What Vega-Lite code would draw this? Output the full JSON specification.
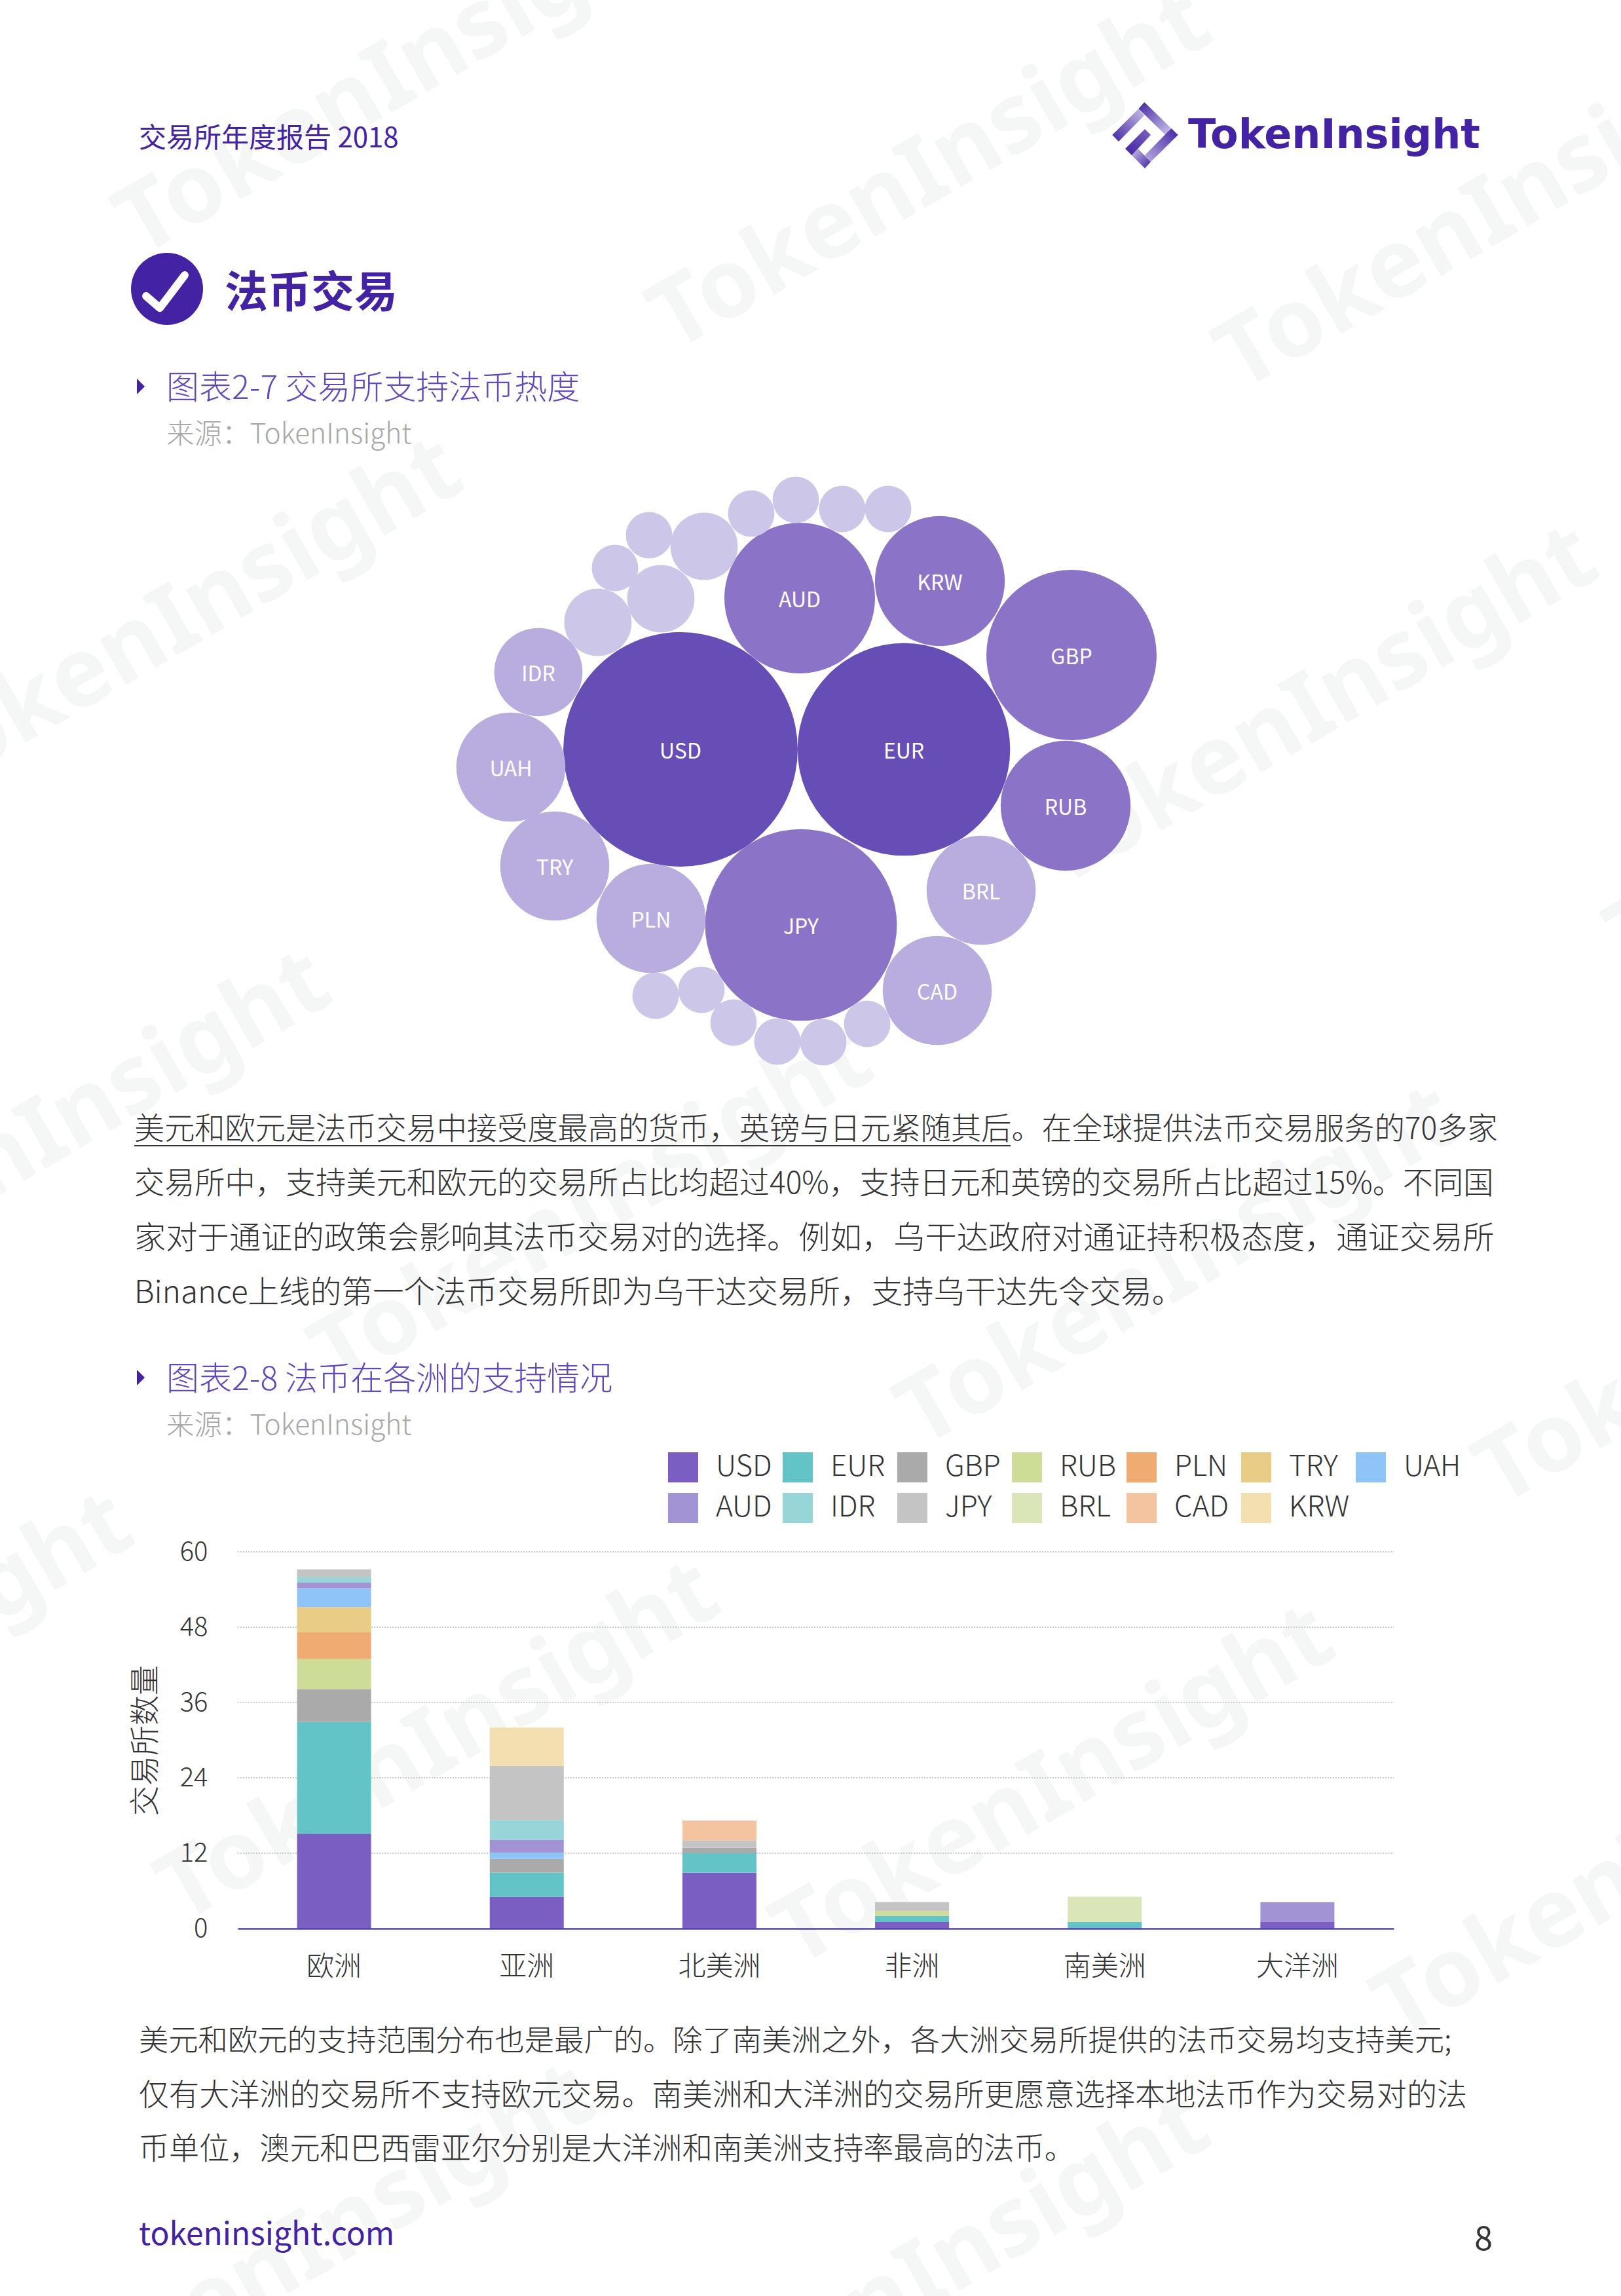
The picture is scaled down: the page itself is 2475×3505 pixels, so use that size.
{
"$schema":"https://vega.github.io/schema/vega-lite/v6.json",
"width":2475,"height":3505,"padding":0,
"autosize":{"type":"fit","contains":"padding"},
"background":"#ffffff",
"config":{"view":{"stroke":null},"text":{"font":"Noto Sans CJK SC"}},
"datasets":{
"bubbles":[
{"cur":"USD","v":25.4,"tier":"a","cx":1039,"cy":1144},
{"cur":"EUR","v":20.9,"tier":"a","cx":1380,"cy":1144},
{"cur":"JPY","v":17,"tier":"b","cx":1223,"cy":1412},
{"cur":"GBP","v":13.4,"tier":"b","cx":1636,"cy":1000},
{"cur":"AUD","v":10.5,"tier":"b","cx":1221,"cy":913},
{"cur":"KRW","v":7.8,"tier":"b","cx":1435,"cy":887},
{"cur":"RUB","v":7.8,"tier":"b","cx":1627,"cy":1230},
{"cur":"BRL","v":5.5,"tier":"c","cx":1498,"cy":1359},
{"cur":"CAD","v":5.5,"tier":"c","cx":1431,"cy":1512},
{"cur":"PLN","v":5.5,"tier":"c","cx":994,"cy":1402},
{"cur":"TRY","v":5.5,"tier":"c","cx":847,"cy":1322},
{"cur":"UAH","v":5.5,"tier":"c","cx":780,"cy":1171},
{"cur":"IDR","v":3.6,"tier":"c","cx":822,"cy":1026},
{"cur":"","v":2.1,"tier":"d","cx":913,"cy":950},
{"cur":"","v":2.1,"tier":"d","cx":1009,"cy":914},
{"cur":"","v":2.1,"tier":"d","cx":1075,"cy":834},
{"cur":"","v":1,"tier":"d","cx":939,"cy":867},
{"cur":"","v":1,"tier":"d","cx":991,"cy":817},
{"cur":"","v":1,"tier":"d","cx":1147,"cy":784},
{"cur":"","v":1,"tier":"d","cx":1215,"cy":763},
{"cur":"","v":1,"tier":"d","cx":1286,"cy":777},
{"cur":"","v":1,"tier":"d","cx":1356,"cy":777},
{"cur":"","v":1,"tier":"d","cx":1001,"cy":1520},
{"cur":"","v":1,"tier":"d","cx":1071,"cy":1511},
{"cur":"","v":1,"tier":"d","cx":1120,"cy":1561},
{"cur":"","v":1,"tier":"d","cx":1187,"cy":1590},
{"cur":"","v":1,"tier":"d","cx":1257,"cy":1591},
{"cur":"","v":1,"tier":"d","cx":1324,"cy":1563}
],
"bars":[
{"region":"欧洲","cur":"USD","n":15.1,"rank":1},
{"region":"欧洲","cur":"EUR","n":17.8,"rank":2},
{"region":"欧洲","cur":"GBP","n":5.25,"rank":3},
{"region":"欧洲","cur":"RUB","n":4.8,"rank":4},
{"region":"欧洲","cur":"PLN","n":4.3,"rank":5},
{"region":"欧洲","cur":"TRY","n":3.95,"rank":6},
{"region":"欧洲","cur":"UAH","n":3,"rank":7},
{"region":"欧洲","cur":"AUD","n":0.9,"rank":8},
{"region":"欧洲","cur":"IDR","n":0.9,"rank":9},
{"region":"欧洲","cur":"JPY","n":1.2,"rank":10},
{"region":"亚洲","cur":"USD","n":5.05,"rank":1},
{"region":"亚洲","cur":"EUR","n":3.85,"rank":2},
{"region":"亚洲","cur":"GBP","n":2.2,"rank":3},
{"region":"亚洲","cur":"UAH","n":1,"rank":7},
{"region":"亚洲","cur":"AUD","n":2.05,"rank":8},
{"region":"亚洲","cur":"IDR","n":3.15,"rank":9},
{"region":"亚洲","cur":"JPY","n":8.6,"rank":10},
{"region":"亚洲","cur":"KRW","n":6.1,"rank":13},
{"region":"北美洲","cur":"USD","n":8.9,"rank":1},
{"region":"北美洲","cur":"EUR","n":3.1,"rank":2},
{"region":"北美洲","cur":"GBP","n":0.85,"rank":3},
{"region":"北美洲","cur":"JPY","n":1.2,"rank":10},
{"region":"北美洲","cur":"CAD","n":3.15,"rank":12},
{"region":"非洲","cur":"USD","n":1.05,"rank":1},
{"region":"非洲","cur":"EUR","n":0.95,"rank":2},
{"region":"非洲","cur":"RUB","n":0.8,"rank":4},
{"region":"非洲","cur":"JPY","n":1.4,"rank":10},
{"region":"南美洲","cur":"EUR","n":1.05,"rank":2},
{"region":"南美洲","cur":"BRL","n":4,"rank":11},
{"region":"大洋洲","cur":"USD","n":1.05,"rank":1},
{"region":"大洋洲","cur":"AUD","n":3.15,"rank":8}
]
},
"resolve":{"scale":{"x":"independent","y":"independent","color":"independent","size":"independent"},"axis":{"x":"independent","y":"independent"}},
"layer":[
{"data":{"values":[
{"u":192,"v":355},{"u":1007,"v":500},{"u":1872,"v":560},{"u":-136,"v":1184},{"u":1597,"v":1318},{"u":2469,"v":1446},{"u":-337,"v":1967},{"u":490,"v":2083},{"u":1385,"v":2173},{"u":2268,"v":2262},{"u":-639,"v":2794},{"u":256,"v":2899},{"u":1195,"v":2966},{"u":2112,"v":3078},{"u":66,"v":3666},{"u":1005,"v":3711}]},
"mark":{"type":"text","text":"TokenInsight","clip":true,"align":"left","baseline":"middle","angle":-30,"font":"Noto Sans","fontWeight":"bold","fontSize":146,"color":"#F5F6F6"},
"encoding":{"x":{"field":"u","type":"quantitative","scale":{"domain":[0,2475],"range":[0,2475],"nice":false,"zero":false},"axis":null},"y":{"field":"v","type":"quantitative","scale":{"domain":[0,3505],"range":[0,3505],"nice":false,"zero":false},"axis":null}}},

{"data":{"values":[{"tick":0},{"tick":12},{"tick":24},{"tick":36},{"tick":48},{"tick":60}]},
"transform":[{"filter":"datum.tick>0"}],
"mark":{"type":"rule","color":"#BDBDBD","strokeWidth":1.5,"strokeDash":[2,2]},
"encoding":{"x":{"datum":0,"scale":{"domain":[0,1],"range":[363,2128]},"axis":null},"x2":{"datum":1},
"y":{"field":"tick","type":"quantitative","scale":{"domain":[0,60],"range":[2944,2369],"nice":false},
"axis":{"zindex":1,"title":"交易所数量","values":[0,12,24,36,48,60],"offset":-363,"grid":false,"domain":false,"ticks":false,"labelPadding":46,"labelFont":"Noto Sans CJK SC","labelFontSize":40,"labelColor":"#333333","labelFontWeight":300,"titleFont":"Noto Sans CJK SC","titleFontSize":46,"titleFontWeight":300,"titleColor":"#333333","titlePadding":28}}}},

{"data":{"name":"bars"},
"mark":{"type":"bar","width":113},
"encoding":{"x":{"field":"region","type":"nominal","sort":null,"scale":{"type":"band","domain":["欧洲","亚洲","北美洲","非洲","南美洲","大洋洲"],"range":[363,2128],"paddingInner":0.6,"paddingOuter":0.3},
"axis":{"zindex":1,"title":null,"orient":"bottom","offset":-561,"labelAngle":0,"ticks":false,"domainColor":"#5540AF","domainWidth":2.5,"labelFont":"Noto Sans CJK SC","labelFontSize":42,"labelColor":"#333333","labelPadding":38,"labelFontWeight":300}},
"y":{"field":"n","type":"quantitative","stack":"zero","scale":{"domain":[0,60],"range":[2944,2369],"nice":false},"axis":null},
"order":{"field":"rank","type":"quantitative"},
"color":{"field":"cur","type":"nominal","scale":{"domain":["USD","EUR","GBP","RUB","PLN","TRY","UAH","AUD","IDR","JPY","BRL","CAD","KRW"],"range":["#7A5EC1","#62C4C7","#AAAAAA","#CDDC96","#F0AB72","#E9CC86","#8EC5F6","#A193D4","#97D5D8","#C4C4C4","#DAE6B8","#F4C3A0","#F4DFB1"]},
"legend":{"title":null,"orient":"none","direction":"horizontal","legendX":1020,"legendY":2217,"columns":7,"gridAlign":"all","padding":0,"columnPadding":9,"rowPadding":16,"symbolType":"square","symbolSize":2116,"symbolStrokeWidth":0,"labelFont":"Noto Sans CJK SC","labelFontSize":44,"labelColor":"#333333","labelOffset":27,"labelFontWeight":300}}}},

{"data":{"name":"bubbles"},
"encoding":{"x":{"field":"cx","type":"quantitative","scale":{"domain":[0,2475],"range":[0,2475],"nice":false,"zero":false},"axis":null},"y":{"field":"cy","type":"quantitative","scale":{"domain":[0,3505],"range":[0,3505],"nice":false,"zero":false},"axis":null}},
"layer":[
{"mark":{"type":"circle","opacity":1},"encoding":{
"size":{"field":"v","type":"quantitative","scale":{"type":"linear","domain":[0,1],"range":[0,5041],"clamp":false},"legend":null},
"color":{"field":"tier","type":"nominal","scale":{"domain":["a","b","c","d"],"range":["#674DB6","#8B74C8","#B9ADE0","#CCC6E8"]},"legend":null}}},
{"transform":[{"filter":"datum.cur!==''"}],"mark":{"type":"text","align":"center","baseline":"middle","dy":4,"font":"Noto Sans CJK SC","fontSize":32,"color":"#FFFFFF"},"encoding":{"text":{"field":"cur"}}}
]},

{"data":{"values":[{"t":"交易所年度报告 2018"}]},"mark":{"type":"text","align":"left","baseline":"middle","fontSize":42,"font":"Noto Sans CJK SC","color":"#4322A4"},
"encoding":{"text":{"field":"t"},"x":{"datum":0,"scale":{"domain":[0,1],"range":[212,213]},"axis":null},"y":{"datum":0,"scale":{"domain":[0,1],"range":[212,213]},"axis":null}}},

{"data":{"values":[{"t":"法币交易"}]},"mark":{"type":"text","align":"left","baseline":"middle","fontSize":66,"fontWeight":"bold","font":"Noto Sans CJK SC","color":"#4322A4"},
"encoding":{"text":{"field":"t"},"x":{"datum":0,"scale":{"domain":[0,1],"range":[343,344]},"axis":null},"y":{"datum":0,"scale":{"domain":[0,1],"range":[449,450]},"axis":null}}},

{"data":{"values":[{"t":"badge"}]},
"encoding":{"x":{"datum":0,"scale":{"domain":[0,1],"range":[255,256]},"axis":null},"y":{"datum":0,"scale":{"domain":[0,1],"range":[441,442]},"axis":null}},
"layer":[
{"mark":{"type":"circle","size":12100,"color":"#4322A4","opacity":1}},
{"mark":{"type":"point","shape":"M-0.58,0.2 L-0.2,0.53 L0.49,-0.38","filled":false,"stroke":"#FFFFFF","strokeWidth":12,"strokeCap":"round","strokeJoin":"round","size":12100,"opacity":1,"fill":null}}
]},

{"data":{"values":[{"t":"logo"}]},
"encoding":{"x":{"datum":0,"scale":{"domain":[0,1],"range":[1748,1749]},"axis":null},"y":{"datum":0,"scale":{"domain":[0,1],"range":[206,207]},"axis":null}},
"layer":[
{"mark":{"type":"point","filled":true,"size":10000,"opacity":1,"strokeWidth":0,"shape":"M-0.192,-0.8 L-0.014,-0.6 L-0.8,0.2 L-0.996,0 Z","fill":{"gradient":"linear","x1":1,"y1":0,"x2":0,"y2":1,"stops":[{"offset":0,"color":"#C9C0E6"},{"offset":1,"color":"#4322A4"}]}}},
{"mark":{"type":"point","filled":true,"size":10000,"opacity":1,"strokeWidth":0,"shape":"M-0.014,-1 L0.808,-0.2 L0.63,0 L-0.192,-0.8 Z","fill":{"gradient":"linear","x1":0,"y1":0,"x2":1,"y2":1,"stops":[{"offset":0,"color":"#4322A4"},{"offset":1,"color":"#CFC8EA"}]}}},
{"mark":{"type":"point","filled":true,"size":10000,"opacity":1,"strokeWidth":0,"shape":"M0.808,-0.2 L1.014,0 L0.18,0.82 L0,0.62 Z","fill":{"gradient":"linear","x1":1,"y1":0,"x2":0,"y2":1,"stops":[{"offset":0,"color":"#4322A4"},{"offset":1,"color":"#B9ADE0"}]}}},
{"mark":{"type":"point","filled":true,"size":10000,"opacity":1,"strokeWidth":0,"shape":"M-0.21,0.42 L0.18,0.82 L0,1.02 L-0.4,0.62 Z","fill":{"gradient":"linear","x1":0,"y1":0,"x2":1,"y2":1,"stops":[{"offset":0,"color":"#C9C0E6"},{"offset":1,"color":"#4322A4"}]}}},
{"mark":{"type":"point","filled":true,"size":10000,"opacity":1,"strokeWidth":0,"shape":"M0,-0.18 L0.18,0 L-0.4,0.62 L-0.6,0.42 Z","fill":{"gradient":"linear","x1":1,"y1":0,"x2":0,"y2":1,"stops":[{"offset":0,"color":"#7A63C0"},{"offset":1,"color":"#4322A4"}]}}}
]},

{"data":{"values":[{"t":"TokenInsight"}]},"mark":{"type":"text","align":"left","baseline":"middle","fontSize":62,"fontWeight":"bold","font":"DejaVu Sans","color":"#4322A4"},
"encoding":{"text":{"field":"t"},"x":{"datum":0,"scale":{"domain":[0,1],"range":[1814,1815]},"axis":null},"y":{"datum":0,"scale":{"domain":[0,1],"range":[207,208]},"axis":null}}},

{"data":{"values":[{"fig":1},{"fig":2}]},"mark":{"type":"point","filled":true,"opacity":1,"size":576,"strokeWidth":0,"color":"#4322A4","shape":"M-0.5,-1 L0.5,0 L-0.5,1 Z"},
"encoding":{"x":{"datum":0,"scale":{"domain":[0,1],"range":[215,216]},"axis":null},"y":{"field":"fig","type":"quantitative","scale":{"domain":[1,2],"range":[590,2103],"nice":false,"zero":false},"axis":null}}},

{"data":{"values":[{"fig":1,"t":"图表2-7 交易所支持法币热度"},{"fig":2,"t":"图表2-8 法币在各洲的支持情况"}]},"mark":{"type":"text","align":"left","baseline":"middle","fontSize":50,"fontWeight":300,"font":"Noto Sans CJK SC","color":"#6248BC"},
"encoding":{"text":{"field":"t"},"x":{"datum":0,"scale":{"domain":[0,1],"range":[254,255]},"axis":null},"y":{"field":"fig","type":"quantitative","scale":{"domain":[1,2],"range":[594,2107],"nice":false,"zero":false},"axis":null}}},

{"data":{"values":[{"fig":1,"t":"来源：TokenInsight"},{"fig":2,"t":"来源：TokenInsight"}]},"mark":{"type":"text","align":"left","baseline":"middle","fontSize":42.5,"fontWeight":300,"font":"Noto Sans CJK SC","color":"#A8A8A8"},
"encoding":{"text":{"field":"t"},"x":{"datum":0,"scale":{"domain":[0,1],"range":[254,255]},"axis":null},"y":{"field":"fig","type":"quantitative","scale":{"domain":[1,2],"range":[664,2177],"nice":false,"zero":false},"axis":null}}},

{"data":{"values":[
{"line":1,"t":"美元和欧元是法币交易中接受度最高的货币，英镑与日元紧随其后。在全球提供法币交易服务的70多家"},
{"line":2,"t":"交易所中，支持美元和欧元的交易所占比均超过40%，支持日元和英镑的交易所占比超过15%。不同国"},
{"line":3,"t":"家对于通证的政策会影响其法币交易对的选择。例如，乌干达政府对通证持积极态度，通证交易所"},
{"line":4,"t":"Binance上线的第一个法币交易所即为乌干达交易所，支持乌干达先令交易。"}]},
"encoding":{"text":{"field":"t"},"x":{"datum":0,"scale":{"domain":[0,1],"range":[205,206]},"axis":null},"y":{"field":"line","type":"quantitative","scale":{"domain":[1,4],"range":[1725,1975],"nice":false,"zero":false},"axis":null}},
"layer":[
{"transform":[{"filter":"datum.line<=2"}],"mark":{"type":"text","align":"left","baseline":"middle","fontSize":46.2,"fontWeight":300,"font":"Noto Sans CJK SC","color":"#333333"}},
{"transform":[{"filter":"datum.line==3"}],"mark":{"type":"text","align":"left","baseline":"middle","fontSize":48.3,"fontWeight":300,"font":"Noto Sans CJK SC","color":"#333333"}},
{"transform":[{"filter":"datum.line==4"}],"mark":{"type":"text","align":"left","baseline":"middle","fontSize":47.6,"fontWeight":300,"font":"Noto Sans CJK SC","color":"#333333"}}
]},

{"data":{"values":[{"t":"underline"}]},"mark":{"type":"rule","color":"#333333","strokeWidth":2},
"encoding":{"x":{"datum":0,"scale":{"domain":[0,1],"range":[205,1543]},"axis":null},"x2":{"datum":1},"y":{"datum":0,"scale":{"domain":[0,1],"range":[1749,1750]},"axis":null}}},

{"data":{"values":[
{"line":1,"t":"美元和欧元的支持范围分布也是最广的。除了南美洲之外，各大洲交易所提供的法币交易均支持美元;"},
{"line":2,"t":"仅有大洋洲的交易所不支持欧元交易。南美洲和大洋洲的交易所更愿意选择本地法币作为交易对的法"},
{"line":3,"t":"币单位，澳元和巴西雷亚尔分别是大洋洲和南美洲支持率最高的法币。"}]},
"encoding":{"text":{"field":"t"},"x":{"datum":0,"scale":{"domain":[0,1],"range":[212,213]},"axis":null},"y":{"field":"line","type":"quantitative","scale":{"domain":[1,3],"range":[3117,3282],"nice":false,"zero":false},"axis":null}},
"layer":[
{"transform":[{"filter":"datum.line==1"}],"mark":{"type":"text","align":"left","baseline":"middle","fontSize":45.3,"fontWeight":300,"font":"Noto Sans CJK SC","color":"#333333"}},
{"transform":[{"filter":"datum.line>1"}],"mark":{"type":"text","align":"left","baseline":"middle","fontSize":46.1,"fontWeight":300,"font":"Noto Sans CJK SC","color":"#333333"}}
]},

{"data":{"values":[{"t":"tokeninsight.com"}]},"mark":{"type":"text","align":"left","baseline":"middle","fontSize":48,"font":"Noto Sans CJK SC","color":"#4322A4"},
"encoding":{"text":{"field":"t"},"x":{"datum":0,"scale":{"domain":[0,1],"range":[212,213]},"axis":null},"y":{"datum":0,"scale":{"domain":[0,1],"range":[3413,3414]},"axis":null}}},

{"data":{"values":[{"t":"8"}]},"mark":{"type":"text","align":"center","baseline":"middle","fontSize":50,"font":"Noto Sans CJK SC","color":"#333333"},
"encoding":{"text":{"field":"t"},"x":{"datum":0,"scale":{"domain":[0,1],"range":[2265,2266]},"axis":null},"y":{"datum":0,"scale":{"domain":[0,1],"range":[3420,3421]},"axis":null}}}
]
}
